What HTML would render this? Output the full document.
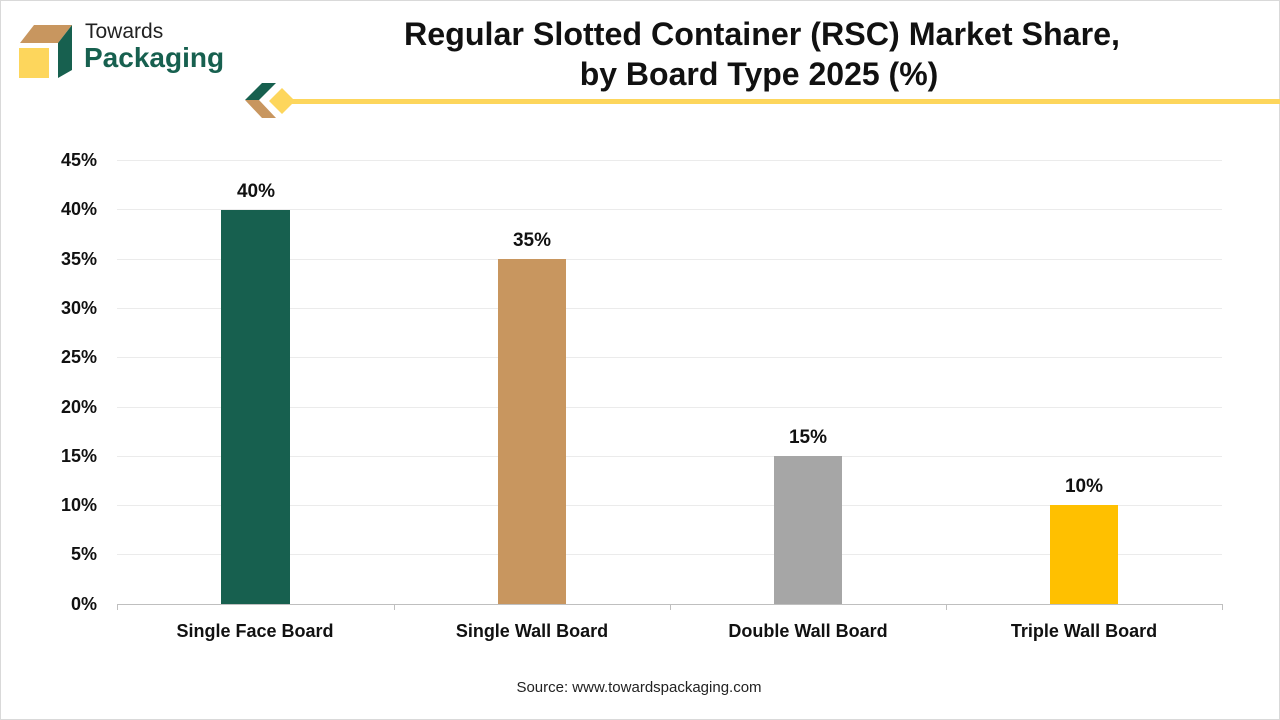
<!DOCTYPE html>
<html><head><meta charset="utf-8"><style>
body{margin:0;background:#fff;}
svg{display:block;font-family:"Liberation Sans",sans-serif;}
</style></head><body>
<svg width="1280" height="720" viewBox="0 0 1280 720" xmlns="http://www.w3.org/2000/svg">
<rect x="0.5" y="0.5" width="1279" height="719" fill="#fff" stroke="#d9d9d9"/>
<polygon points="20,43 58,43 72,25 34,25" fill="#c8965f"/>
<polygon points="58,43 72,25 72,70 58,78" fill="#17604f"/>
<rect x="19" y="48" width="30" height="30" fill="#fdd65c"/>
<text x="85" y="38" font-size="21" fill="#222">Towards</text>
<text x="84" y="67" font-size="28" font-weight="bold" fill="#17604f">Packaging</text>
<polygon points="245,100 262,83 276,83 259,100" fill="#17604f"/>
<polygon points="245,100 259,100 276,118 262,118" fill="#c8965f"/>
<polygon points="282,88 295,101 282,114 269,101" fill="#fdd65c"/>
<rect x="290" y="99" width="990" height="5" fill="#fdd65c"/>
<text x="762" y="45" font-size="32" font-weight="bold" text-anchor="middle" fill="#111" textLength="716" lengthAdjust="spacingAndGlyphs">Regular Slotted Container (RSC) Market Share,</text>
<text x="759" y="85" font-size="32" font-weight="bold" text-anchor="middle" fill="#111">by Board Type 2025 (%)</text>
<g stroke="#ebebeb" stroke-width="1">
<line x1="117" x2="1222" y1="160.5" y2="160.5"/><line x1="117" x2="1222" y1="209.5" y2="209.5"/>
<line x1="117" x2="1222" y1="259.5" y2="259.5"/><line x1="117" x2="1222" y1="308.5" y2="308.5"/>
<line x1="117" x2="1222" y1="357.5" y2="357.5"/><line x1="117" x2="1222" y1="407.5" y2="407.5"/>
<line x1="117" x2="1222" y1="456.5" y2="456.5"/><line x1="117" x2="1222" y1="505.5" y2="505.5"/>
<line x1="117" x2="1222" y1="554.5" y2="554.5"/>
</g>
<g stroke="#bfbfbf"><line x1="117" x2="1222" y1="604.5" y2="604.5"/>
<line x1="117.5" x2="117.5" y1="604" y2="610"/><line x1="394.5" x2="394.5" y1="604" y2="610"/>
<line x1="670.5" x2="670.5" y1="604" y2="610"/><line x1="946.5" x2="946.5" y1="604" y2="610"/>
<line x1="1222.5" x2="1222.5" y1="604" y2="610"/></g>
<g font-size="18" font-weight="bold" text-anchor="end" fill="#111">
<text x="97" y="166">45%</text><text x="97" y="215">40%</text><text x="97" y="265">35%</text>
<text x="97" y="314">30%</text><text x="97" y="363">25%</text><text x="97" y="413">20%</text>
<text x="97" y="462">15%</text><text x="97" y="511">10%</text><text x="97" y="560">5%</text>
<text x="97" y="610">0%</text></g>
<rect x="221" y="210" width="69" height="394" fill="#17604f"/>
<rect x="498" y="259" width="68" height="345" fill="#c8965f"/>
<rect x="774" y="456" width="68" height="148" fill="#a6a6a6"/>
<rect x="1050" y="505" width="68" height="99" fill="#ffc000"/>
<g font-size="19" font-weight="bold" text-anchor="middle" fill="#111">
<text x="256" y="197">40%</text><text x="532" y="246">35%</text>
<text x="808" y="443">15%</text><text x="1084" y="492">10%</text></g>
<g font-size="18" font-weight="bold" text-anchor="middle" fill="#111">
<text x="255" y="637">Single Face Board</text><text x="532" y="637">Single Wall Board</text>
<text x="808" y="637">Double Wall Board</text><text x="1084" y="637">Triple Wall Board</text></g>
<text x="639" y="692" font-size="15" text-anchor="middle" fill="#222">Source: www.towardspackaging.com</text>
</svg>
</body></html>
